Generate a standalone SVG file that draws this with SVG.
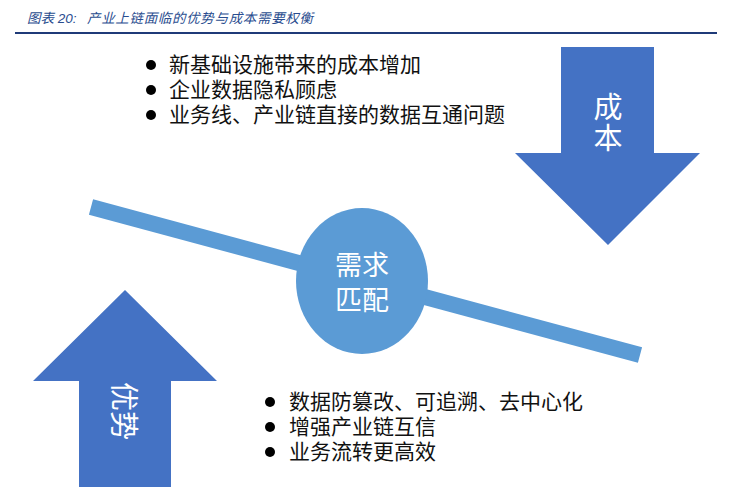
<svg xmlns="http://www.w3.org/2000/svg" width="731" height="500" viewBox="0 0 731 500">
<style>
.cjk{font-family:"Liberation Sans","Noto Sans CJK SC",sans-serif;}
.title{font-size:13.5px;font-style:italic;fill:#2a4d8f;}
.item{font-size:21px;fill:#111;}
.lbl{font-size:29px;fill:#fff;text-anchor:middle;}
.arrow{fill:#4472c4;}
.blue2{fill:#5b9bd5;}
</style>
<rect width="731" height="500" fill="#fff"/>
<g id="title">
<text class="cjk title" x="27" y="23">图表 20:</text>
<text class="cjk title" x="87" y="23" textLength="226" lengthAdjust="spacing">产业上链面临的优势与成本需要权衡</text>
<line x1="15" y1="33" x2="717" y2="33" stroke="#1f3a78" stroke-width="2"/>
</g>
<g id="connectors">
<line x1="91" y1="207" x2="640" y2="355" stroke="#5b9bd5" stroke-width="16"/>
</g>
<g id="cost-arrow">
<polygon class="arrow" points="561,47 654,47 654,153 700,153 608,245 515,153 561,153"/>
<text class="cjk lbl" x="608" y="118">成</text>
<text class="cjk lbl" x="608" y="149">本</text>
</g>
<g id="advantage-arrow">
<polygon class="arrow" points="125,290 217,381 171,381 171,487 79,487 79,381 33,381"/>
<text class="cjk lbl" transform="rotate(90 123 411)" x="123" y="421">优势</text>
</g>
<g id="demand-match">
<ellipse class="blue2" cx="362" cy="281" rx="66" ry="73"/>
<text class="cjk lbl" style="font-size:27px" x="362" y="275">需求</text>
<text class="cjk lbl" style="font-size:27px" x="362" y="310">匹配</text>
</g>
<g id="cost-list">
<circle cx="151" cy="65" r="5" fill="#000"/>
<circle cx="151" cy="90" r="5" fill="#000"/>
<circle cx="151" cy="115" r="5" fill="#000"/>
<text class="cjk item" x="169" y="72">新基础设施带来的成本增加</text>
<text class="cjk item" x="169" y="97">企业数据隐私顾虑</text>
<text class="cjk item" x="169" y="122">业务线、产业链直接的数据互通问题</text>
</g>
<g id="advantage-list">
<circle cx="270" cy="402" r="5" fill="#000"/>
<circle cx="270" cy="427" r="5" fill="#000"/>
<circle cx="270" cy="452" r="5" fill="#000"/>
<text class="cjk item" x="289" y="409">数据防篡改、可追溯、去中心化</text>
<text class="cjk item" x="289" y="434">增强产业链互信</text>
<text class="cjk item" x="289" y="459">业务流转更高效</text>
</g>
</svg>
